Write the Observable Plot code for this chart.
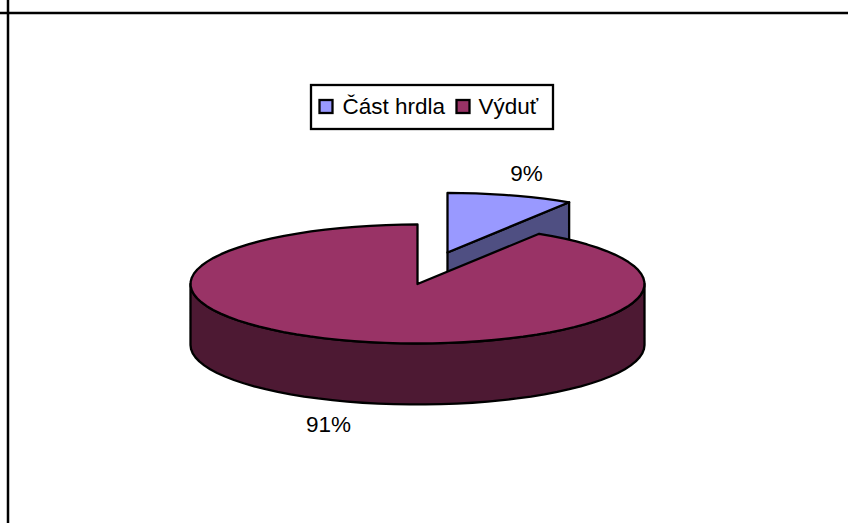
<!DOCTYPE html>
<html><head><meta charset="utf-8">
<script src="https://cdn.jsdelivr.net/npm/d3@7"></script>
<script src="https://cdn.jsdelivr.net/npm/@observablehq/plot@0.6"></script>
<style>html,body{margin:0;padding:0;background:#fff}svg{display:block}</style>
</head><body><div id="chart"></div>
<script>
const categories = ["Část hrdla", "Výduť"];
const shares = [9, 91];
const labels = ["9%", "91%"];
const topColors = ["#9999FF", "#993366"];
const sideColors = ["#4F4F82", "#4D1933"];

const W = 848, H = 523;
const cx = 417, cy = 283.5, rx = 227, ry = 59.5, depth = 61;
// data space: unit pie; scales map it onto the page
const ux = p => (p - cx) / rx;
const uy = p => (p - cy) / ry;
const dz = depth / ry;
const ex = {dx: 30 / rx, dy: -31.5 / ry}; // explosion of the first slice

const arcs = d3.pie().sort(null).value(d => d)(shares);
const pt = a => [Math.sin(a), -Math.cos(a)];
function arcPts(a0, a1) {
  const n = Math.max(2, Math.ceil((a1 - a0) / 0.07));
  return d3.range(n + 1).map(i => pt(a0 + (a1 - a0) * i / n));
}
const shift = (pts, dx, dy) => pts.map(([x, y]) => [x + dx, y + dy]);

// first slice
const a = arcs[0], b = arcs[1];
const smallTop = shift([[0, 0], ...arcPts(a.startAngle, a.endAngle), [0, 0]], ex.dx, ex.dy);
const cutEnd = pt(a.endAngle);
const smallSide = shift([[0, 0], cutEnd, [cutEnd[0], cutEnd[1] + dz], [0, dz], [0, 0]], ex.dx, ex.dy);
// second slice
const bigTop = [[0, 0], ...arcPts(b.startAngle, b.endAngle), [0, 0]];
const front = arcPts(Math.PI / 2, 3 * Math.PI / 2);
const bigSide = [...front, ...shift(front, 0, dz).reverse(), front[0]];

const poly = (pts, fill) => Plot.line(pts, {x: d => d[0], y: d => d[1], fill, stroke: "#000", strokeWidth: 2.3, strokeLinejoin: "round", curve: "linear"});

const fs = 22.5;
const legendTxt = {fontFamily: "Liberation Sans, Arial, sans-serif", fontSize: fs, fill: "#000", textAnchor: "start"};
const legendX = [342, 478], swatchX = [326, 463], legendY = 106.5;

const plot = Plot.plot({
  width: W, height: H, margin: 0,
  x: {domain: [ux(0), ux(W)], range: [0, W], axis: null},
  y: {domain: [uy(0), uy(H)], range: [0, H], axis: null},
  style: {background: "#fff", fontFamily: "Liberation Sans, Arial, sans-serif"},
  marks: [
    Plot.ruleX([ux(7.5)], {stroke: "#000", strokeWidth: 2.5}),
    Plot.ruleY([uy(12.5)], {stroke: "#000", strokeWidth: 2.5}),
    poly(smallSide, sideColors[0]),
    poly(smallTop, topColors[0]),
    poly(bigSide, sideColors[1]),
    poly(bigTop, topColors[1]),
    Plot.text([labels[0]], {x: ux(526), y: uy(173), text: d => d, fontSize: fs, fill: "#000"}),
    Plot.text([labels[1]], {x: ux(328), y: uy(424), text: d => d, fontSize: fs, fill: "#000"}),
    // legend
    Plot.rect([0], {x1: ux(311), x2: ux(553), y1: uy(85), y2: uy(129), fill: "#fff", stroke: "#000", strokeWidth: 2.3}),
    Plot.rect(categories, {x1: (d, i) => ux(swatchX[i] - 6.5), x2: (d, i) => ux(swatchX[i] + 6.5), y1: uy(legendY - 6.5), y2: uy(legendY + 6.5), fill: (d, i) => topColors[i], stroke: "#000", strokeWidth: 2.3}),
    Plot.text(categories, {x: (d, i) => ux(legendX[i]), y: uy(legendY), text: d => d, ...legendTxt})
  ]
});
document.getElementById("chart").append(plot);
</script></body></html>
